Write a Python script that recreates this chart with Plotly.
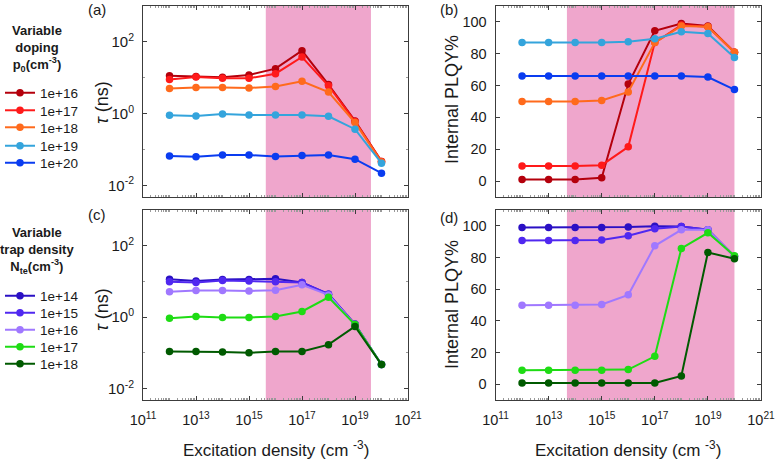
import plotly.graph_objects as go

# ---------------- data ----------------
excitation = [1e12, 1e13, 1e14, 1e15, 1e16, 1e17, 1e18, 1e19, 1e20]

doping_labels = ["1e+16", "1e+17", "1e+18", "1e+19", "1e+20"]
doping_colors = ["#B4000C", "#FF1A1A", "#FF6A1C", "#34A4DC", "#0A3CF0"]

tau_p16 = [11.5, 10.8, 10.3, 12.0, 18.0, 57.0, 6.5, 0.63, 0.047]
tau_p17 = [8.9, 10.5, 9.7, 9.7, 13.0, 38.0, 6.0, 0.61, 0.047]
tau_p18 = [5.0, 5.4, 5.4, 5.2, 5.7, 8.0, 4.0, 0.57, 0.045]
tau_p19 = [0.90, 0.86, 0.98, 0.92, 0.92, 0.92, 0.85, 0.37, 0.042]
tau_p20 = [0.066, 0.063, 0.071, 0.071, 0.064, 0.069, 0.071, 0.054, 0.022]

plqy_p16 = [1.0, 1.0, 1.0, 2.1, 61.0, 94.4, 99.0, 97.5, 81.0]
plqy_p17 = [9.4, 9.4, 9.4, 10.0, 21.5, 87.0, 98.0, 97.0, 81.0]
plqy_p18 = [50.0, 50.0, 50.0, 50.6, 56.0, 87.0, 97.5, 97.0, 81.0]
plqy_p19 = [87.0, 87.0, 87.0, 87.0, 87.5, 89.4, 93.8, 92.7, 77.7]
plqy_p20 = [66.0, 66.0, 66.0, 66.0, 66.0, 66.0, 66.0, 65.4, 57.5]

trap_labels = ["1e+14", "1e+15", "1e+16", "1e+17", "1e+18"]
trap_colors = ["#2A10C4", "#5028F0", "#A078FF", "#1EDC14", "#005A00"]

tau_n14 = [11.6, 10.2, 11.3, 11.3, 11.8, 9.4, 4.4, 0.64, 0.047]
tau_n15 = [9.8, 9.4, 10.7, 10.2, 9.8, 9.4, 4.4, 0.62, 0.047]
tau_n16 = [5.1, 5.6, 5.6, 5.4, 5.7, 8.1, 4.2, 0.62, 0.047]
tau_n17 = [0.93, 1.04, 0.98, 0.98, 1.04, 1.44, 3.6, 0.62, 0.047]
tau_n18 = [0.11, 0.11, 0.105, 0.10, 0.11, 0.11, 0.17, 0.55, 0.047]

plqy_n14 = [99.0, 99.0, 99.0, 99.0, 99.2, 99.8, 99.6, 97.5, 80.7]
plqy_n15 = [90.8, 90.8, 90.8, 91.0, 93.7, 98.1, 99.6, 97.5, 80.7]
plqy_n16 = [49.9, 49.9, 49.9, 50.3, 56.4, 87.4, 97.5, 97.5, 80.7]
plqy_n17 = [8.8, 8.8, 8.8, 8.8, 9.2, 17.6, 85.7, 95.6, 81.1]
plqy_n18 = [0.8, 0.8, 0.8, 0.8, 0.8, 0.8, 5.2, 83.2, 79.2]

# shaded excitation windows (data units)
shade_tau = [4.3e15, 4.0e19]
shade_plqy = [4.9e13, 1.0e20]

x_tickvals = [1e11, 1e13, 1e15, 1e17, 1e19, 1e21]
x_ticktext = ["10<sup>11</sup>", "10<sup>13</sup>", "10<sup>15</sup>",
              "10<sup>17</sup>", "10<sup>19</sup>", "10<sup>21</sup>"]
tau_tickvals = [1e-2, 1, 1e2]
tau_ticktext = ["10<sup>-2</sup>", "10<sup>0</sup>", "10<sup>2</sup>"]
plqy_tickvals = [0, 20, 40, 60, 80, 100]

# ---------------- figure ----------------
W, H = 775, 461
FONT = "Liberation Sans, Arial, sans-serif"
TXT = "#1a1a1a"
AXC = "#3c3c3c"
PINK = "#EFA6CC"

fig = go.Figure()

tau_doping = [tau_p16, tau_p17, tau_p18, tau_p19, tau_p20]
plqy_doping = [plqy_p16, plqy_p17, plqy_p18, plqy_p19, plqy_p20]
tau_trap = [tau_n14, tau_n15, tau_n16, tau_n17, tau_n18]
plqy_trap = [plqy_n14, plqy_n15, plqy_n16, plqy_n17, plqy_n18]

# legend entry vertical centres (pixels from top)
legend_rows_px = [93, 110.5, 127.5, 146, 163, 296, 313, 330, 347, 364]


def lg(k):
    return "legend" if k == 0 else f"legend{k+1}"


for i in range(5):
    fig.add_trace(go.Scatter(x=excitation, y=tau_doping[i], mode="lines+markers",
                             name=doping_labels[i], line=dict(color=doping_colors[i], width=2),
                             marker=dict(size=7.5, color=doping_colors[i]),
                             xaxis="x", yaxis="y", legend=lg(i)))
    fig.add_trace(go.Scatter(x=excitation, y=plqy_doping[i], mode="lines+markers",
                             name=doping_labels[i], line=dict(color=doping_colors[i], width=2),
                             marker=dict(size=7.5, color=doping_colors[i]),
                             xaxis="x2", yaxis="y2", showlegend=False))
for i in range(5):
    fig.add_trace(go.Scatter(x=excitation, y=tau_trap[i], mode="lines+markers",
                             name=trap_labels[i], line=dict(color=trap_colors[i], width=2),
                             marker=dict(size=7.5, color=trap_colors[i]),
                             xaxis="x3", yaxis="y3", legend=lg(i + 5)))
    fig.add_trace(go.Scatter(x=excitation, y=plqy_trap[i], mode="lines+markers",
                             name=trap_labels[i], line=dict(color=trap_colors[i], width=2),
                             marker=dict(size=7.5, color=trap_colors[i]),
                             xaxis="x4", yaxis="y4", showlegend=False))

# shading
for xr, yr, rng in [("x", "y", shade_tau), ("x2", "y2", shade_plqy),
                    ("x3", "y3", shade_tau), ("x4", "y4", shade_plqy)]:
    fig.add_shape(type="rect", xref=xr, yref=f"{yr} domain", x0=rng[0], x1=rng[1],
                  y0=0, y1=1, fillcolor=PINK, line=dict(width=0), layer="below")

colL = [143 / W, 408 / W]
colR = [495.5 / W, 761 / W]
rowT = [1 - 197 / H, 1 - 6 / H]
rowB = [1 - 400 / H, 1 - 210 / H]

xcommon = dict(type="log", range=[11, 21], tickmode="array", tickvals=x_tickvals,
               ticktext=x_ticktext, showline=True, linecolor=AXC, linewidth=1,
               mirror="ticks", ticks="inside", ticklen=4, tickcolor=AXC,
               showgrid=False, zeroline=False, ticklabelstandoff=7, automargin=False,
               ticklabeloverflow="allow",
               tickfont=dict(size=14.5, color=TXT, family=FONT),
               minor=dict(ticks="inside", ticklen=2, dtick="D1", tickcolor="#9a9a9a", showgrid=False))
ytau = dict(type="log", range=[-2.32, 3.0], tickmode="array", tickvals=tau_tickvals,
            ticktext=tau_ticktext, showline=True, linecolor=AXC, linewidth=1,
            mirror="ticks", ticks="inside", ticklen=4, tickcolor=AXC,
            showgrid=False, zeroline=False, ticklabelstandoff=5, automargin=False,
            tickfont=dict(size=15, color=TXT, family=FONT),
            minor=dict(ticks="inside", ticklen=2, dtick=1, tickcolor="#9a9a9a", showgrid=False))
yplqy = dict(type="linear", range=[-10, 110], tickmode="array", tickvals=plqy_tickvals,
             showline=True, linecolor=AXC, linewidth=1,
             mirror="ticks", ticks="inside", ticklen=4, tickcolor=AXC,
             showgrid=False, zeroline=False, ticklabelstandoff=5, automargin=False,
             tickfont=dict(size=14.5, color=TXT, family=FONT))

fig.update_layout(
    xaxis=dict(xcommon, domain=colL, anchor="y", showticklabels=False),
    yaxis=dict(ytau, domain=rowT, anchor="x"),
    xaxis2=dict(xcommon, domain=colR, anchor="y2", showticklabels=False),
    yaxis2=dict(yplqy, domain=rowT, anchor="x2"),
    xaxis3=dict(xcommon, domain=colL, anchor="y3"),
    yaxis3=dict(ytau, domain=rowB, anchor="x3"),
    xaxis4=dict(xcommon, domain=colR, anchor="y4"),
    yaxis4=dict(yplqy, domain=rowB, anchor="x4"),
)

# legends, one per entry for exact spacing
for k, ypx in enumerate(legend_rows_px):
    fig.update_layout({lg(k): dict(x=0, xanchor="left", y=1 - ypx / H, yanchor="middle",
                                   bgcolor="rgba(0,0,0,0)", borderwidth=0, itemwidth=30,
                                   font=dict(size=13.5, color=TXT, family=FONT),
                                   tracegroupgap=0)})

ann = []
# legend titles
ann.append(dict(text="<b>Variable<br>doping<br>p<sub>0</sub>(cm<sup>-3</sup>)</b>",
                x=37 / W, y=1 - 48 / H, xref="paper", yref="paper", showarrow=False,
                xanchor="center", yanchor="middle", align="center",
                font=dict(size=13, color=TXT, family=FONT)))
ann.append(dict(text="<b>Variable<br>trap density<br>N<sub>te</sub>(cm<sup>-3</sup>)</b>",
                x=37 / W, y=1 - 250 / H, xref="paper", yref="paper", showarrow=False,
                xanchor="center", yanchor="middle", align="center",
                font=dict(size=13, color=TXT, family=FONT)))
# panel letters
for t, xp, yp in [("(a)", 97, 10), ("(b)", 449, 10), ("(c)", 97, 215), ("(d)", 449, 217)]:
    ann.append(dict(text=t, x=xp / W, y=1 - yp / H, xref="paper", yref="paper",
                    showarrow=False, xanchor="center", yanchor="middle",
                    font=dict(size=15, color=TXT, family=FONT)))
# y titles
for t, xp, yp in [("<i>τ</i> (ns)", 102, 103), ("<i>τ</i> (ns)", 102, 310),
                  ("Internal PLQY%", 452, 100), ("Internal PLQY%", 452, 305)]:
    ann.append(dict(text=t, x=xp / W, y=1 - yp / H, xref="paper", yref="paper",
                    showarrow=False, xanchor="center", yanchor="middle", textangle=-90,
                    font=dict(size=18, color=TXT, family=FONT)))
# x titles
for xp in [(143 + 408) / 2, (495.5 + 761) / 2]:
    ann.append(dict(text="Excitation density (cm <sup>-3</sup>)", x=xp / W, y=1 - 449 / H,
                    xref="paper", yref="paper", showarrow=False,
                    xanchor="center", yanchor="middle",
                    font=dict(size=17, color=TXT, family=FONT)))

fig.update_layout(
    annotations=ann,
    width=W, height=H,
    margin=dict(l=0, r=0, t=0, b=0, autoexpand=False),
    paper_bgcolor="white", plot_bgcolor="white",
    font=dict(family=FONT, color=TXT),
)

fig.write_html("out.html", config={"displayModeBar": False},
               post_script="document.body.style.margin='0';document.body.style.overflow='hidden';")
